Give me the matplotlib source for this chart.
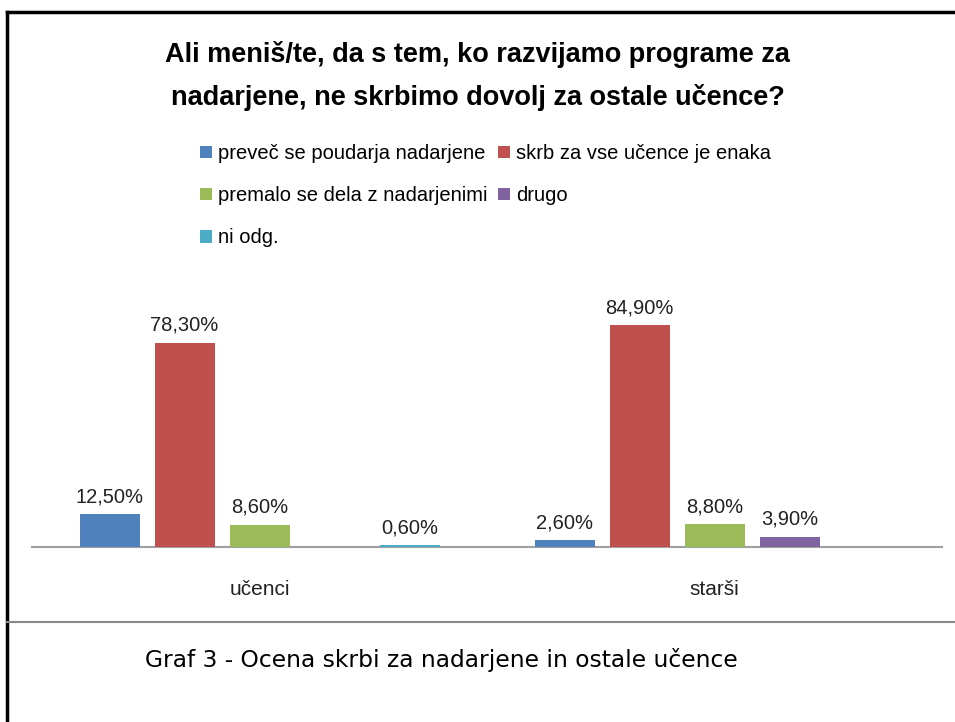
import matplotlib
matplotlib.use("Agg")
import matplotlib.pyplot as plt
from matplotlib.lines import Line2D
import numpy as np

categories = ["učenci", "starši"]
series = ["preveč se poudarja nadarjene", "skrb za vse učence je enaka",
          "premalo se dela z nadarjenimi", "drugo", "ni odg."]
values = {
    "preveč se poudarja nadarjene": [12.5, 2.6],
    "skrb za vse učence je enaka": [78.3, 84.9],
    "premalo se dela z nadarjenimi": [8.6, 8.8],
    "drugo": [0.0, 3.9],
    "ni odg.": [0.6, 0.0],
}
colors = ["#4F81BD", "#C0504D", "#9BBB59", "#8064A2", "#4BACC6"]
title = "Ali meniš/te, da s tem, ko razvijamo programe za\nnadarjene, ne skrbimo dovolj za ostale učence?"
caption = "Graf 3 - Ocena skrbi za nadarjene in ostale učence"

font = "Liberation Sans"

fig = plt.figure(figsize=(9.55, 7.22), dpi=100)
ax = fig.add_axes([32/955, 1-547/722, 910/955, (547-312)/722])
x = np.arange(len(categories))
step = 75/455
width = 60/455
handles = {}
for i, s in enumerate(series):
    pos = x + (i-2)*step
    bars = ax.bar(pos, values[s], width, color=colors[i], linewidth=0, label=s, zorder=3)
    handles[s] = bars
    for p, v in zip(pos, values[s]):
        if v > 0:
            ax.text(p, v + 3.0, f"{v:.2f}%".replace(".", ","), ha="center", va="bottom",
                    fontsize=14.5, family=font, color="#222222")
ax.set_xlim(-0.5, 1.5)
ax.set_ylim(0, 90)
for sp in ["top", "right", "left"]:
    ax.spines[sp].set_visible(False)
ax.spines["bottom"].set_color("#A0A0A0")
ax.spines["bottom"].set_linewidth(1.5)
ax.spines["bottom"].set_zorder(1)
ax.set_yticks([])
ax.set_xticks(x)
ax.set_xticklabels(categories, fontsize=15, family=font, color="#222222")
ax.tick_params(axis="x", length=0, pad=24)

fig.text(0.5, 1-76/722, title, ha="center", va="center", fontsize=19.5, fontweight="bold",
         family=font, linespacing=1.75)

order = [0, 2, 4, 1, 3]
leg = fig.legend([handles[series[i]] for i in order], [series[i] for i in order],
                 ncol=2, loc="upper left", bbox_to_anchor=(200/955, 1-144/722),
                 frameon=False, prop={"family": font, "size": 14.5},
                 handlelength=0.6, handleheight=0.6, handletextpad=0.3,
                 labelspacing=1.15, columnspacing=0.5, borderaxespad=0, borderpad=0)

fig.add_artist(Line2D([7/955, 1], [1-12/722, 1-12/722], color="black", lw=2.5, transform=fig.transFigure))
fig.add_artist(Line2D([7/955, 7/955], [0, 1-12/722], color="black", lw=2.5, transform=fig.transFigure))
fig.add_artist(Line2D([7/955, 1], [1-622/722, 1-622/722], color="#888888", lw=1.5, transform=fig.transFigure))

fig.text(145/955, 1-660/722, caption, ha="left", va="center", fontsize=16.8, family="DejaVu Sans")

fig.savefig("out.png", dpi=100)
